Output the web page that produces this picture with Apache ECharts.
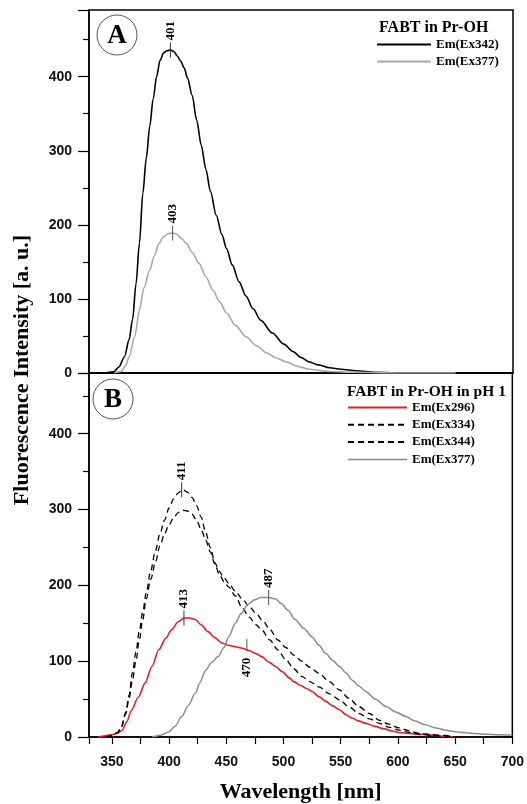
<!DOCTYPE html>
<html>
<head>
<meta charset="utf-8">
<script src="https://cdn.jsdelivr.net/npm/echarts@6/dist/echarts.min.js"></script>
<style>
html, body { margin: 0; padding: 0; background: #fff; }
#main { width: 527px; height: 804px; }
</style>
</head>
<body>
<div id="main"></div>
<script>
// panel A : FABT in Pr-OH
var wlA342 = [345, 352, 356, 361, 365, 368, 371, 374, 377, 380, 383, 386, 389, 392, 395, 398, 401, 404, 407, 410, 413, 416, 420, 424, 428, 432, 436, 441, 446, 450, 455, 461, 467, 473, 480, 490, 500, 508, 515, 522, 530, 540, 550, 563, 580, 600, 650, 700];
var emA342 = [0, 2, 8, 22, 45, 72, 120, 175, 243, 290, 333, 370, 400, 422, 432, 435, 436, 434, 428, 421, 412, 398, 375, 341, 307, 275, 245, 213, 187, 168, 146, 123, 104, 87, 71, 54, 39, 29, 21, 15, 11, 7, 5, 3, 1, 0, 0, 0];
var wlA377 = [352, 358, 362, 365, 370, 374, 378, 383, 387, 391, 395, 399, 403, 407, 411, 415, 420, 426, 432, 438, 444, 450, 458, 467, 476, 485, 494, 502, 512, 522, 540, 560, 600, 650];
var emA377 = [0, 2, 10, 22, 50, 85, 115, 139, 158, 175, 184, 188, 189, 187, 181, 175, 163, 148, 130, 112, 96, 81, 64, 49, 37, 27, 20, 15, 9, 5, 2, 1, 0, 0];

// panel B : FABT in Pr-OH in pH 1
var wlB296 = [338, 341, 350, 355, 359, 363, 367, 373, 379, 385, 391, 397, 402, 408, 413, 418, 423, 428, 434, 440, 446, 452, 458, 464, 470, 476, 481, 487, 493, 499, 505, 509, 515, 520, 525, 531, 537, 543, 549, 555, 560, 566, 572, 580, 587, 595, 601, 615, 630, 640, 650];
var emB296 = [0, 1, 3, 5, 9, 20, 35, 52, 71, 93, 115, 130, 141, 152, 157, 157, 155, 148, 139, 131, 124, 121, 119, 117, 114, 110, 106, 99, 93, 86, 78, 73, 68, 64, 60, 53, 47, 41, 36, 29, 25, 21, 18, 14, 11, 8, 6, 4, 2.5, 1, 0];
var wlB334 = [345, 350, 355, 358, 362, 365, 368, 371, 374, 377, 380, 384, 388, 392, 396, 400, 404, 408, 412, 416, 420, 424, 428, 432, 436, 440, 444, 448, 452, 458, 464, 470, 476, 482, 488, 495, 502, 509, 516, 523, 531, 540, 549, 557, 566, 575, 584, 592, 601, 610, 618, 630, 642, 650];
var emB334 = [0, 2, 6, 12, 32, 55, 85, 112, 140, 165, 190, 220, 245, 268, 286, 302, 314, 322, 326, 323, 316, 305, 290, 270, 250, 230, 218, 210, 203, 192, 182, 172, 163, 153, 142, 128, 118, 108, 100, 92, 84, 73, 62, 51, 40, 31, 22, 17, 12, 8, 5, 3, 2, 0];
var wlB344 = [345, 350, 355, 358, 362, 365, 368, 371, 374, 377, 380, 384, 388, 392, 396, 400, 404, 408, 412, 416, 420, 424, 428, 432, 436, 440, 444, 448, 452, 458, 464, 470, 476, 481, 488, 495, 502, 509, 516, 523, 531, 540, 549, 557, 566, 575, 584, 592, 601, 610, 618, 630, 642, 650];
var emB344 = [0, 2, 6, 11, 30, 50, 75, 100, 128, 155, 182, 208, 230, 252, 268, 280, 289, 296, 299, 298, 294, 286, 274, 260, 244, 228, 214, 205, 198, 186, 170, 158, 148, 141, 128, 115, 102, 90, 80, 73, 66, 57, 49, 40, 31, 24, 18, 13, 9, 6, 4, 2, 1, 0];
var wlB377 = [385, 388, 394, 400, 405, 411, 417, 423, 427, 432, 437, 443, 448, 452, 458, 463, 469, 475, 480, 487, 493, 498, 504, 510, 518, 525, 531, 537, 543, 549, 555, 560, 566, 572, 580, 590, 598, 607, 615, 624, 633, 642, 650, 659, 668, 677, 688, 700];
var emB377 = [0, 1, 3, 7, 14, 27, 42, 58, 72, 88, 98, 106, 118, 132, 150, 163, 175, 181, 184, 184, 182, 176, 167, 155, 143, 132, 121, 110, 101, 93, 84, 75, 67, 60, 50, 40, 33, 27, 21, 16, 12, 9, 7, 5.7, 4.5, 3.5, 3, 2.5];

// peak marks: [wavelength, intensity, label]
var peaksA342 = [[401, 436, '401']];
var peaksA377 = [[403, 189, '403']];
var peaksB296 = [[413, 157, '413']];
var shoulderB296 = [[468, 115, '470']];
var peaksB334 = [[411, 326, '411']];
var peaksB377 = [[487, 184, '487']];

var yTicks = [0, 100, 200, 300, 400];

var serif = '"Liberation Serif", "Times New Roman", serif';
var sans = '"Liberation Sans", Arial, sans-serif';

function zip(xs, ys) {
	var out = [];
	for (var i = 0; i < xs.length; i++) out.push([xs[i], ys[i]]);
	return out;
}

function marks(list, below, tickColor) {
	return list.map(function (p) {
		return {
			coord: [p[0], p[1]],
			value: p[2],
			symbol: 'rect',
			symbolSize: below ? [1, 12] : [1, 15],
			symbolOffset: below ? [0, -5] : [0, 0],
			itemStyle: { color: tickColor },
			label: {
				show: true,
				formatter: p[2],
				position: below ? 'bottom' : 'top',
				distance: below ? 7 : 2,
				rotate: 90,
				align: below ? 'right' : 'left',
				verticalAlign: 'middle',
				fontFamily: serif,
				fontWeight: 'bold',
				fontSize: 13,
				color: '#000'
			}
		};
	});
}

function lineSeries(name, xi, data, color, width, type, markData) {
	var s = {
		name: name,
		type: 'line',
		xAxisIndex: xi,
		yAxisIndex: xi,
		symbol: 'none',
		smooth: 0.3,
		smoothMonotone: 'x',
		lineStyle: { color: color, width: width, type: type },
		itemStyle: { color: color },
		data: data
	};
	if (markData) {
		s.markPoint = { silent: true, data: markData };
	}
	return s;
}

function yAxisOf(gi, max) {
	return {
		type: 'value',
		gridIndex: gi,
		min: 0,
		max: max,
		interval: 100,
		axisLine: { show: true, lineStyle: { color: '#000', width: 1.5 } },
		axisTick: { show: true, inside: false, length: 11, lineStyle: { color: '#000', width: 1.2 } },
		minorTick: { show: true, splitNumber: 2, length: 6, lineStyle: { color: '#000', width: 1.2 } },
		axisLabel: {
			margin: 17,
			showMaxLabel: false,
			fontFamily: sans,
			fontWeight: 'bold',
			fontSize: 14,
			color: '#111',
			formatter: function (v) { return yTicks.indexOf(v) >= 0 ? String(v) : ''; }
		},
		splitLine: { show: false }
	};
}

var legendText = { fontFamily: serif, fontWeight: 'bold', fontSize: 13, color: '#000' };

var myChart = echarts.init(document.getElementById('main'));

option = {
	backgroundColor: '#fff',
	animation: false,
	title: [
		{ text: 'FABT in Pr-OH', left: 379, top: 20, padding: 0,
			textStyle: { fontFamily: serif, fontWeight: 'bold', fontSize: 16, color: '#000' } },
		{ text: 'FABT in Pr-OH in pH 1', left: 347, top: 384, padding: 0,
			textStyle: { fontFamily: serif, fontWeight: 'bold', fontSize: 15.5, color: '#000' } }
	],
	legend: [
		{
			orient: 'vertical', left: 376, top: 38, padding: 0,
			itemWidth: 54, itemHeight: 14, itemGap: 4,
			textStyle: legendText,
			itemStyle: { opacity: 0 },
			selectedMode: false,
			data: [
				{ name: 'Em(Ex342)' },
				{ name: 'Em(Ex377)', lineStyle: { color: '#a8a8a8' } }
			]
		},
		{
			orient: 'vertical', left: 347, top: 401, padding: 0,
			itemWidth: 59, itemHeight: 14, itemGap: 4.3,
			textStyle: legendText,
			itemStyle: { opacity: 0 },
			selectedMode: false,
			data: [
				{ name: 'Em(Ex296)' },
				{ name: 'Em(Ex334)' },
				{ name: 'Em(Ex344)' },
				{ name: 'Em(Ex377)', lineStyle: { color: '#8c8c8c', type: 'solid', width: 1.5 } }
			]
		}
	],
	grid: [
		{ left: 89, right: 14, top: 10, height: 363, show: true, borderColor: '#000', borderWidth: 1.5, backgroundColor: 'transparent' },
		{ left: 89, right: 14, top: 373, height: 364, show: true, borderColor: '#000', borderWidth: 1.5, backgroundColor: 'transparent' }
	],
	xAxis: [
		{
			type: 'value', gridIndex: 0, min: 330, max: 700, splitNumber: 7,
			axisLine: { show: true, lineStyle: { color: '#000', width: 1.5 } },
			axisTick: { show: false },
			axisLabel: { show: false },
			splitLine: { show: false }
		},
		{
			type: 'value', gridIndex: 1, min: 330, max: 700, splitNumber: 7,
			name: 'Wavelength [nm]',
			nameLocation: 'middle',
			nameGap: 44,
			nameTextStyle: { fontFamily: serif, fontWeight: 'bold', fontSize: 22, color: '#000' },
			axisLine: { show: true, lineStyle: { color: '#000', width: 1.5 } },
			axisTick: { show: true, inside: false, length: 7, lineStyle: { color: '#000', width: 1.2 } },
			minorTick: { show: true, splitNumber: 2, length: 7, lineStyle: { color: '#000', width: 1.2 } },
			axisLabel: {
				margin: 18, showMinLabel: false,
				fontFamily: sans, fontWeight: 'bold', fontSize: 14, color: '#111'
			},
			splitLine: { show: false }
		}
	],
	yAxis: [yAxisOf(0, 490), yAxisOf(1, 480)],
	graphic: [
		{
			type: 'text', x: 22, y: 370, rotation: Math.PI / 2,
			style: { text: 'Fluorescence Intensity [a. u.]', font: 'bold 22px ' + serif, fill: '#000', align: 'center', verticalAlign: 'middle' }
		},
		{ type: 'circle', shape: { cx: 117, cy: 35, r: 20 }, style: { fill: 'transparent', stroke: '#555', lineWidth: 1 } },
		{ type: 'text', x: 117, y: 36, style: { text: 'A', font: 'bold 27px ' + serif, fill: '#000', align: 'center', verticalAlign: 'middle' } },
		{ type: 'circle', shape: { cx: 113, cy: 399, r: 20 }, style: { fill: 'transparent', stroke: '#555', lineWidth: 1 } },
		{ type: 'text', x: 113, y: 400, style: { text: 'B', font: 'bold 27px ' + serif, fill: '#000', align: 'center', verticalAlign: 'middle' } }
	],
	series: [
		lineSeries('Em(Ex342)', 0, zip(wlA342, emA342), '#000', 1.6, 'solid', marks(peaksA342, false, '#333')),
		lineSeries('Em(Ex377)', 0, zip(wlA377, emA377), '#a8a8a8', 1.6, 'solid', marks(peaksA377, false, '#555')),
		lineSeries('Em(Ex296)', 1, zip(wlB296, emB296), '#e31e24', 1.6, 'solid', marks(peaksB296, false, '#333').concat(marks(shoulderB296, true, '#555'))),
		lineSeries('Em(Ex334)', 1, zip(wlB334, emB334), '#000', 1.3, [6, 4], marks(peaksB334, false, '#333')),
		lineSeries('Em(Ex344)', 1, zip(wlB344, emB344), '#000', 1.3, [6, 4], null),
		lineSeries('Em(Ex377)', 1, zip(wlB377, emB377), '#8c8c8c', 1.5, 'solid', marks(peaksB377, false, '#555'))
	]
};
myChart.setOption(option);
</script>
</body>
</html>
